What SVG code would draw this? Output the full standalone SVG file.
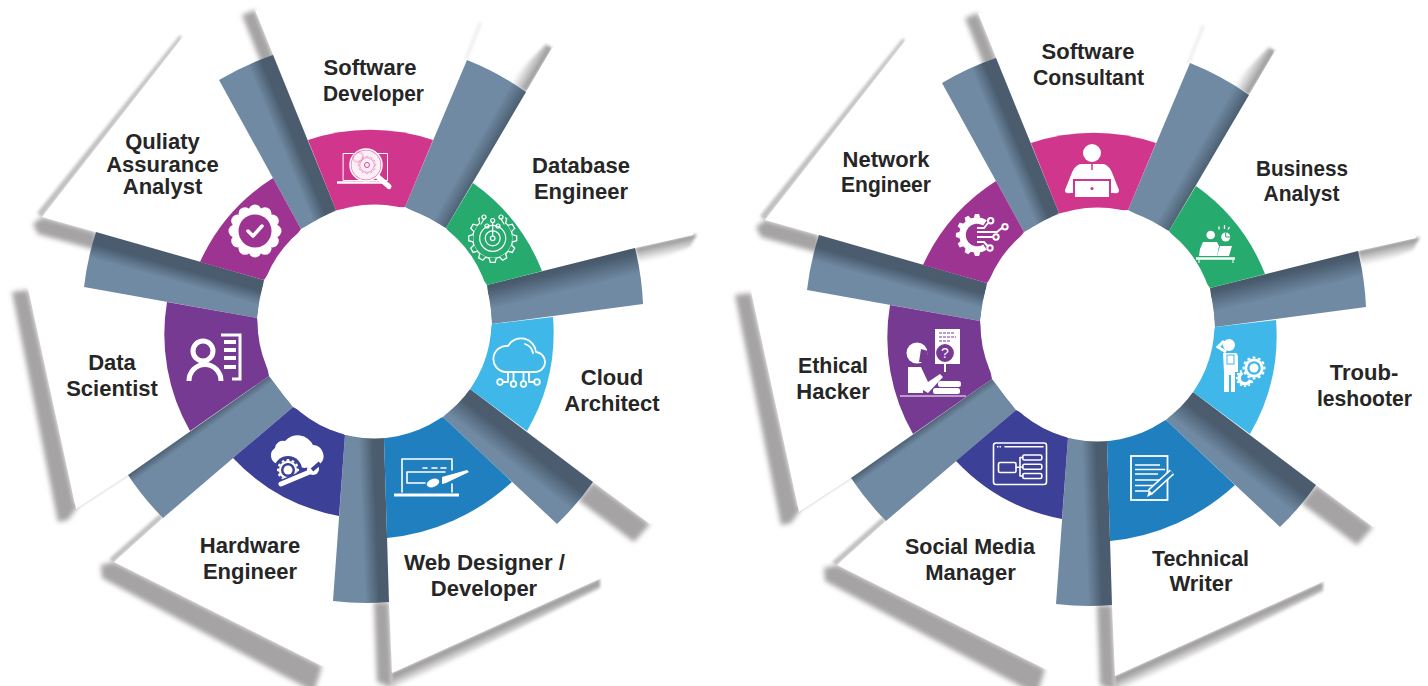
<svg xmlns="http://www.w3.org/2000/svg" xmlns:xlink="http://www.w3.org/1999/xlink" width="1428" height="686" viewBox="0 0 1428 686">
<style>
text{font-family:"Liberation Sans",Arial,sans-serif;font-weight:700;font-size:22px;fill:#262626;text-anchor:middle}
.sh{fill:#a5a3a4;filter:url(#blur)}
.faint{fill:#a5a3a4;filter:url(#blur1);opacity:.7}
.pn{fill:#fff}
.w{fill:#fff;stroke:none}
.l{fill:none;stroke:#fff;stroke-width:1.6;stroke-linecap:round;stroke-linejoin:round}
.c1{fill:#d1368d}.c2{fill:#27aa6e}.c3{fill:#3fb7e9}.c4{fill:#2080bf}.c5{fill:#3c4096}.c6{fill:#773a93}.c7{fill:#9e3491}
</style>
<defs>
<filter id="blur" x="-50%" y="-50%" width="200%" height="200%"><feGaussianBlur stdDeviation="2.6"/></filter>
<filter id="blur1" x="-50%" y="-50%" width="200%" height="200%"><feGaussianBlur stdDeviation="1.4"/></filter>
<linearGradient id="gA" gradientUnits="userSpaceOnUse" x1="304" y1="132" x2="280" y2="142"><stop offset="0" stop-color="#4a5c6e"/><stop offset=".45" stop-color="#4a5c6e"/><stop offset="1" stop-color="#708aa3"/></linearGradient>
<linearGradient id="gB" gradientUnits="userSpaceOnUse" x1="486" y1="160" x2="472" y2="152"><stop offset="0" stop-color="#4d6073"/><stop offset="1" stop-color="#708aa3"/></linearGradient>
<linearGradient id="gC" gradientUnits="userSpaceOnUse" x1="561" y1="266" x2="567" y2="291"><stop offset="0" stop-color="#475768"/><stop offset=".2" stop-color="#4a5c6e"/><stop offset="1" stop-color="#708aa3"/></linearGradient>
<linearGradient id="gD" gradientUnits="userSpaceOnUse" x1="531" y1="435" x2="510" y2="462"><stop offset="0" stop-color="#4a5c6e"/><stop offset=".4" stop-color="#4a5c6e"/><stop offset="1" stop-color="#708aa3"/></linearGradient>
<linearGradient id="gE" gradientUnits="userSpaceOnUse" x1="386" y1="520" x2="362" y2="521"><stop offset="0" stop-color="#4a5c6e"/><stop offset=".4" stop-color="#4a5c6e"/><stop offset="1" stop-color="#708aa3"/></linearGradient>
<linearGradient id="gF" gradientUnits="userSpaceOnUse" x1="198" y1="425" x2="203" y2="432"><stop offset="0" stop-color="#4d6073"/><stop offset="1" stop-color="#708aa3"/></linearGradient>
<linearGradient id="gG" gradientUnits="userSpaceOnUse" x1="180" y1="256" x2="173" y2="281"><stop offset="0" stop-color="#4a5c6e"/><stop offset=".45" stop-color="#4a5c6e"/><stop offset="1" stop-color="#708aa3"/></linearGradient>
<linearGradient id="gS1" gradientUnits="userSpaceOnUse" x1="539" y1="70" x2="523.500" y2="61"><stop offset="0" stop-color="#8f8e8f"/><stop offset="1" stop-color="#a5a3a4" stop-opacity="0"/></linearGradient>
<linearGradient id="gS2" gradientUnits="userSpaceOnUse" x1="665" y1="241.500" x2="668.400" y2="257"><stop offset="0" stop-color="#8f8e8f"/><stop offset="1" stop-color="#a5a3a4" stop-opacity="0"/></linearGradient>
<linearGradient id="gS3" gradientUnits="userSpaceOnUse" x1="495" y1="626" x2="501.600" y2="640.600"><stop offset="0" stop-color="#9a9899"/><stop offset=".3" stop-color="#a5a3a4"/><stop offset="1" stop-color="#a5a3a4" stop-opacity="0"/></linearGradient>

<g id="panels">
<polygon class="sh" points="28,290 12,292 58,522 68,520 76,509"/>
<polygon class="faint" points="76,509 128,475 126,471 72,506"/>
<polygon class="pn" points="28,288 76,509 128,475 269,376 264,280 96,232"/>
<polygon class="sh" points="42,217 96,232 96,250 38,234 33,224"/>
<polygon class="faint" points="42,217 182,38 180,35 37,213"/>
<polygon class="pn" points="42,217 264,280 336,210 260,12 182,38"/>
<polygon class="sh" points="255,10 273,55 340,215 322,215 242,15"/>
<polygon class="pn" points="336,210 255,10 482,23 405,207"/>
<polygon class="faint" points="114,562 163,518 160,514 109,559"/>
<polygon class="sh" points="114,562 322,666 314,692 102,578 101,565"/>
<polygon class="pn" points="114,562 163,518 293,407 345,435 389,602 392,675 322,666"/>
<polygon class="sh" points="389,602 374,602 377,682 392,688 392,673"/>
<polygon fill="url(#gS3)" filter="url(#blur1)" points="392,673 600,579 600,588 392,692"/>
<polygon class="pn" points="384,438 389,602 392,673 597,580 660,540 593,482 443,417"/>
<polygon class="sh" points="593,482 650,524 634,542 578,500"/>
<polygon class="pn" points="470,389 593,482 650,524 700,500 700,300 643,304 492,324"/>
<polygon class="faint" points="467,60 482,23 479,22 464,60" style="opacity:.2"/>
<polygon fill="url(#gS1)" filter="url(#blur1)" points="526,92 552,48 546,44 508,82"/>
<polygon fill="url(#gS2)" filter="url(#blur1)" points="635,248 697,234 690,247 640,268"/>
<polygon class="pn" points="446,228 526,92 552,48 700,100 693,235 635,248 487,285"/>
</g>
<g id="spokes">
<path fill="url(#gA)" d="M273 55A280 280 0 0 0 219 80L301 229L336 210Z"/>
<path fill="url(#gB)" d="M467 60A280 280 0 0 1 526 92L446 228L405 207Z"/>
<path fill="url(#gC)" d="M635 248A280 280 0 0 1 643 304L492 324L487 285Z"/>
<path fill="url(#gD)" d="M593 482A280 280 0 0 1 557 524L443 417L470 389Z"/>
<path fill="url(#gE)" d="M389 602A280 280 0 0 1 333 601L345 435L384 438Z"/>
<path fill="url(#gF)" d="M163 518A280 280 0 0 1 128 475L269 376L293 407Z"/>
<path fill="url(#gG)" d="M84 287A280 280 0 0 1 96 232L264 280L257 318Z"/>
</g>
<path id="s1" class="c1" d="M308 140A195 195 0 0 1 433 140L405 207L336 210Z"/>
<path id="s2" class="c2" d="M473 183A195 195 0 0 1 542 271L487 285L446 228Z"/>
<path id="s3" class="c3" d="M553 317A195 195 0 0 1 527 431L470 389L492 324Z"/>
<path id="s4" class="c4" d="M512 482A215 215 0 0 1 387 538L384 438L443 417Z"/>
<path id="s5" class="c5" d="M339 516A195 195 0 0 1 233 458L293 407L345 435Z"/>
<path id="s6" class="c6" d="M190 431A195 195 0 0 1 167 302L257 318L269 376Z"/>
<path id="s7" class="c7" d="M200 262A195 195 0 0 1 273 178L301 229L264 280Z"/>
<path id="tt" d="M-3.6 -19.6L-2.4 -24H2.4L3.6 -19.6"/>
<g id="gear">
<circle r="20"/>
<use href="#tt"/><use href="#tt" transform="rotate(30)"/><use href="#tt" transform="rotate(60)"/><use href="#tt" transform="rotate(90)"/><use href="#tt" transform="rotate(120)"/><use href="#tt" transform="rotate(150)"/><use href="#tt" transform="rotate(180)"/><use href="#tt" transform="rotate(210)"/><use href="#tt" transform="rotate(240)"/><use href="#tt" transform="rotate(270)"/><use href="#tt" transform="rotate(300)"/><use href="#tt" transform="rotate(330)"/>
</g>
</defs>

<rect width="1428" height="686" fill="#fff"/>
<g id="backdrop">
<use href="#panels"/>
<use href="#panels" x="723" y="3"/>
</g>
<g id="connectors">
<use href="#spokes"/>
<use href="#spokes" x="723" y="3"/>
</g>

<!-- left wheel -->
<g id="software-developer">
<use href="#s1"/>
<rect x="343.500" y="153.500" width="44" height="27" class="l" style="stroke-width:1"/>
<path d="M337 182.500H385" stroke="#fff" stroke-width="2.400" fill="none"/>
<path d="M377 176L389 186.500" stroke="#fff" stroke-width="5" stroke-linecap="round"/>
<circle cx="366" cy="165" r="16" fill="#e27eb6" stroke="#fff" stroke-width="1.500"/>
<circle cx="366" cy="165" r="14.500" fill="#fff" fill-opacity=".88"/>
<g fill="none" stroke="#d1368d" stroke-width=".9"><use href="#gear" transform="translate(358 157) scale(.24)"/><use href="#gear" transform="translate(367 165) scale(.36)"/><circle cx="367" cy="165" r="2.500"/></g>
<text x="370" y="75">Software</text><text x="373.500" y="101" textLength="101" lengthAdjust="spacingAndGlyphs">Developer</text>
</g>
<g id="database-engineer">
<use href="#s2"/>
<g transform="translate(492.700 238.300)" fill="#27aa6e" stroke="#fff" stroke-width="1.300"><use href="#gear"/></g>
<rect x="480" y="211" width="25" height="14" fill="#27aa6e"/>
<g class="l" style="stroke-width:1.200"><circle cx="492.700" cy="238.300" r="13"/><circle cx="492.700" cy="238.300" r="7.500"/><circle cx="492.700" cy="238.300" r="2.300"/>
<path d="M492.700 222.500V236M484 219L481 224M501 219L504 224"/><circle cx="484" cy="217" r="2"/><circle cx="492.700" cy="220.500" r="2"/><circle cx="501" cy="217" r="2"/><circle cx="487" cy="226" r="2"/><circle cx="498" cy="226" r="2"/></g>
<text x="581" y="173">Database</text><text x="581" y="199">Engineer</text>
</g>
<g id="cloud-architect">
<use href="#s3"/>
<g class="l" style="stroke-width:1.800"><path d="M505 372H534A10 10 0 0 0 536 352A15 15 0 0 0 508 346A13 13 0 0 0 505 372Z"/><path d="M525 344A12 12 0 0 1 533 353"/>
<path d="M503 382H508V372M534 382H529V372M513.500 372V381M523.500 372V381"/><circle cx="500" cy="382" r="2.800"/><circle cx="513.500" cy="384" r="2.800"/><circle cx="523.500" cy="384" r="2.800"/><circle cx="537" cy="382" r="2.800"/></g>
<text x="612" y="385">Cloud</text><text x="612" y="411">Architect</text>
</g>
<g id="web-designer">
<use href="#s4"/>
<path class="l" d="M452 470V459H402V492M452 484V492"/>
<path d="M394 495H459" stroke="#fff" stroke-width="3" fill="none"/>
<path class="l" d="M423 468H427M432 468H437M441 468H446M445 472H407V483H425"/>
<path class="w" d="M442 477L467 470L469 472L446 483L442 484Z"/>
<ellipse class="w" cx="433" cy="483" rx="6.500" ry="4" transform="rotate(-20 433 483)"/>
<text x="484.500" y="570" textLength="161" lengthAdjust="spacingAndGlyphs">Web Designer /</text><text x="484" y="596">Developer</text>
</g>
<g id="hardware-engineer">
<use href="#s5"/>
<path class="w" d="M277 464A9 9 0 0 1 275 448A8 8 0 0 1 285 441A17 17 0 0 1 313 445A11 11 0 0 1 320 464L305 468Z"/>
<circle cx="288" cy="470" r="14" fill="#3c4096"/>
<g fill="#fff"><use href="#gear" transform="translate(288 470) scale(.46)"/></g>
<circle cx="288" cy="470" r="7" fill="#3c4096"/><circle cx="288" cy="470" r="4.500" fill="#fff"/>
<path d="M280 485L312 471" stroke="#3c4096" stroke-width="9"/>
<path d="M281 484L312 471" stroke="#fff" stroke-width="5" stroke-linecap="round"/>
<circle cx="313" cy="469" r="6" fill="#fff"/><path d="M312 470L320 463" stroke="#3c4096" stroke-width="4"/>
<text x="250" y="553">Hardware</text><text x="250" y="579">Engineer</text>
</g>
<g id="data-scientist">
<use href="#s6"/>
<circle cx="203" cy="351" r="10" fill="none" stroke="#fff" stroke-width="5"/>
<path d="M189 381A14 14.500 0 0 1 221 381" fill="none" stroke="#fff" stroke-width="5"/>
<path d="M221 335H240V379H232" fill="none" stroke="#fff" stroke-width="3"/>
<path class="w" d="M224 340H236V344H224ZM224 348H236V352H224ZM224 356H236V360H224ZM224 365H236V369H224Z"/>
<text x="112" y="370">Data</text><text x="112" y="396">Scientist</text>
</g>
<g id="quality-assurance-analyst">
<use href="#s7"/>
<g transform="translate(255 231)" fill="#fff"><circle r="22"/><circle cx="20" r="6.500"/><circle cx="17.300" cy="10" r="6.500"/><circle cx="10" cy="17.300" r="6.500"/><circle cy="20" r="6.500"/><circle cx="-10" cy="17.300" r="6.500"/><circle cx="-17.300" cy="10" r="6.500"/><circle cx="-20" r="6.500"/><circle cx="-17.300" cy="-10" r="6.500"/><circle cx="-10" cy="-17.300" r="6.500"/><circle cy="-20" r="6.500"/><circle cx="10" cy="-17.300" r="6.500"/><circle cx="17.300" cy="-10" r="6.500"/></g>
<circle cx="255" cy="231" r="16.500" fill="#9e3491"/>
<path d="M248 231L253 236L262 226" fill="none" stroke="#fff" stroke-width="3.500" stroke-linecap="round" stroke-linejoin="round"/>
<text x="162.500" y="149">Quliaty</text><text x="162.500" y="172">Assurance</text><text x="162.500" y="194">Analyst</text>
</g>

<!-- right wheel -->
<g id="software-consultant">
<use href="#s1" x="723" y="3"/>
<circle class="w" cx="1092" cy="153" r="9"/>
<path class="w" d="M1080 164L1104 164Q1110 166 1113 175L1119 190Q1119 194 1114 193L1111 193V179H1073V193L1070 193Q1065 194 1065 190L1071 175Q1074 166 1080 164Z"/>
<rect class="w" x="1075" y="181" width="34" height="16"/><circle cx="1092" cy="188.500" r="1.600" fill="#d1368d"/>
<path d="M1092 164V170" stroke="#d1368d" stroke-width="1.500"/>
<text x="1088" y="59">Software</text><text x="1088.500" y="85" textLength="111" lengthAdjust="spacingAndGlyphs">Consultant</text>
</g>
<g id="business-analyst">
<use href="#s2" x="723" y="3"/>
<circle class="w" cx="1210.700" cy="235" r="4.300"/>
<path class="w" d="M1203 242H1217L1219 246L1217 256H1199L1200 249Z"/>
<path class="w" d="M1220 246H1232L1229 256H1217Z"/>
<path d="M1196 258.500H1235" stroke="#fff" stroke-width="2.500"/><path d="M1199 259V263M1233 259V263" stroke="#fff" stroke-width="1"/>
<circle class="w" cx="1225.700" cy="237" r="4.500"/><path d="M1225.700 237V232.500M1225.700 237H1230" stroke="#27aa6e" stroke-width="1"/>
<path d="M1219 226.500V229.500M1224.500 225V229M1229.500 227L1228 229.500" stroke="#fff" stroke-width="1.300"/>
<text x="1302" y="176" textLength="92" lengthAdjust="spacingAndGlyphs">Business</text><text x="1301.500" y="201" textLength="76" lengthAdjust="spacingAndGlyphs">Analyst</text>
</g>
<g id="troubleshooter">
<use href="#s3" x="723" y="3"/>
<circle class="w" cx="1229" cy="345" r="6"/>
<path class="w" d="M1223 353H1236Q1238 354 1238 358V372H1235V392H1231V375H1229V392H1224V372Z"/>
<path d="M1226 352L1218 347L1224 341" fill="none" stroke="#fff" stroke-width="3"/>
<rect x="1227" y="355" width="7" height="9" fill="none" stroke="#3fb7e9" stroke-width="1"/>
<g fill="#fff"><use href="#gear" transform="translate(1245 378) scale(.38)"/></g>
<circle cx="1245" cy="378" r="4" fill="#3fb7e9"/>
<circle cx="1254" cy="368" r="12.500" fill="#3fb7e9"/>
<g fill="#fff"><use href="#gear" transform="translate(1254 368) scale(.48)"/></g>
<circle cx="1254" cy="368" r="6.800" fill="#3fb7e9"/><circle cx="1254" cy="368" r="4.500" fill="#fff"/>
<text x="1364" y="380">Troub-</text><text x="1364.500" y="406" textLength="95" lengthAdjust="spacingAndGlyphs">leshooter</text>
</g>
<g id="technical-writer">
<use href="#s4" x="723" y="3"/>
<rect x="1131" y="456" width="36.500" height="44" fill="none" stroke="#fff" stroke-width="1.800"/>
<path d="M1135 465H1160M1135 469.500H1165M1135 474H1158M1135 480H1163M1135 485.500H1155M1135 491H1150" stroke="#fff" stroke-width="1.500"/>
<path d="M1150 492L1172 472" stroke="#fff" stroke-width="6.500"/>
<path d="M1150 492L1172 472" stroke="#2080bf" stroke-width="3.500"/>
<path class="w" d="M1147 497L1149 490L1153 494Z"/>
<text x="1200.500" y="566" textLength="97" lengthAdjust="spacingAndGlyphs">Technical</text><text x="1201" y="591">Writer</text>
</g>
<g id="social-media-manager">
<use href="#s5" x="723" y="3"/>
<g class="l"><rect x="993.500" y="443" width="53" height="41.500" rx="2.500"/><rect x="998.500" y="462.500" width="17.500" height="10" rx="1.500"/><rect x="1022.800" y="455" width="19" height="5" rx="1.500"/><rect x="1022.800" y="464.300" width="19" height="5" rx="1.500"/><rect x="1022.800" y="473.500" width="19" height="5" rx="1.500"/><path d="M1016 467.300H1020M1020 457.500V476M1020 457.500H1022.800M1020 467H1022.800M1020 476H1022.800M1005 446.800H1043"/></g>
<path d="M997 446.800H1002" stroke="#fff" stroke-width="1.500" stroke-dasharray="1.500 1"/>
<text x="970" y="554" textLength="130" lengthAdjust="spacingAndGlyphs">Social Media</text><text x="970.500" y="580">Manager</text>
</g>
<g id="ethical-hacker">
<use href="#s6" x="723" y="3"/>
<circle class="w" cx="917" cy="353" r="10.500"/>
<path d="M921 349L928 351L926 362L919 362Z" fill="#773a93"/>
<path class="w" d="M908 367H921L928 382L940 374L943 377L928 393L923 390V393H908Z"/>
<rect class="w" x="935" y="329" width="25" height="35"/>
<path d="M939 333H954M939 337H956M939 341H950" stroke="#773a93" stroke-width="1" stroke-dasharray="3 1"/>
<circle cx="945" cy="353" r="9.500" fill="#773a93" stroke="#fff" stroke-width="1.200"/>
<path d="M945 362V372" stroke="#fff" stroke-width="2"/>
<text x="945" y="358" style="font-size:14px;fill:#fff;font-weight:400">?</text>
<rect class="w" x="938" y="381" width="23" height="6" rx="2.500"/><rect class="w" x="933" y="388" width="27" height="6" rx="2.500"/>
<path d="M900 396H966" stroke="#fff" stroke-width="1"/>
<text x="833" y="373" textLength="70" lengthAdjust="spacingAndGlyphs">Ethical</text><text x="833" y="399">Hacker</text>
</g>
<g id="network-engineer">
<use href="#s7" x="723" y="3"/>
<path d="M985 222.900A14.500 14.500 0 1 0 985 247.100" fill="none" stroke="#fff" stroke-width="6.500"/>
<g fill="#fff"><use href="#tt" transform="translate(977 235) scale(.88) rotate(360)"/><use href="#tt" transform="translate(977 235) scale(.88) rotate(330)"/><use href="#tt" transform="translate(977 235) scale(.88) rotate(300)"/><use href="#tt" transform="translate(977 235) scale(.88) rotate(270)"/><use href="#tt" transform="translate(977 235) scale(.88) rotate(240)"/><use href="#tt" transform="translate(977 235) scale(.88) rotate(210)"/><use href="#tt" transform="translate(977 235) scale(.88) rotate(180)"/></g>
<g fill="none" stroke="#fff" stroke-width="2"><path d="M977 228H984L988 223M977 232H997L1002.500 227.500M977 237H993M977 242H984L988 246.500"/><circle cx="990.700" cy="220.700" r="2.700"/><circle cx="1005" cy="226.700" r="2.700"/><circle cx="996" cy="237" r="2.700"/><circle cx="990" cy="248" r="2.700"/></g>
<text x="886" y="167">Network</text><text x="886" y="192" textLength="90" lengthAdjust="spacingAndGlyphs">Engineer</text>
</g>

<g id="hubs" fill="#fff">
<circle cx="374.500" cy="321.500" r="117"/>
<circle cx="1097.500" cy="324.500" r="117"/>
</g>
</svg>
